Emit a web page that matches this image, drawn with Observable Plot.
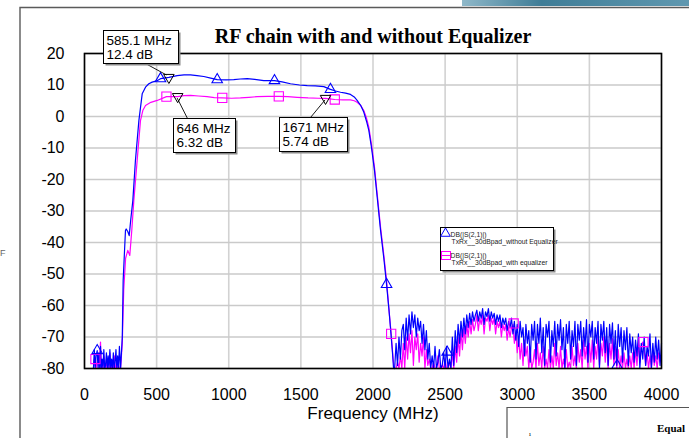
<!DOCTYPE html>
<html><head><meta charset="utf-8">
<script src="https://cdn.jsdelivr.net/npm/d3@7"></script>
<script src="https://cdn.jsdelivr.net/npm/@observablehq/plot@0.6"></script>
<style>
html,body{margin:0;padding:0;background:#fff;}
#chart{position:relative;width:689px;height:438px;overflow:hidden;}
svg{display:block;}
</style></head><body><div id="chart"></div>
<script>
// ---------- DATA ----------
const titleText = "RF chain with and without Equalizer";
const xLabelText = "Frequency (MHz)";
const xTicks = [0, 500, 1000, 1500, 2000, 2500, 3000, 3500, 4000];
const yTicks = [20, 10, 0, -10, -20, -30, -40, -50, -60, -70, -80];

// low-frequency noise floor (MHz)
const lowFreq = [62,68,74,80,88,94,100,106,111,116,122,128,134,140,146,152,158,164,170,176,182,188,194,200,206,212,218,224,230,236,242,250];
const lowBlue = [-80,-74,-80,-76,-74.3,-80,-75,-80,-73,-80,-77,-80,-74,-80,-79,-75,-80,-76,-80,-74,-80,-77,-80,-75,-80,-78,-74,-80,-76,-80,-73,-80];
const lowMag  = [-80,-77,-77,-80,-78,-75,-80,-76,-71.6,-80,-78,-80,-76,-80,-80,-77,-80,-79,-80,-75,-80,-80,-78,-80,-76,-80,-80,-77,-80,-79,-80,-80];

// pass band, without equalizer (blue)
const bandFreqBlue = [262,268,284,289,300,310,320,335,353,377,400,423,446,469,500,527,585.1,642,690,735,780,827,875,920,980,1035,1080,1128,1180,1243,1317,1370,1428,1490,1544,1600,1659,1705,1740,1775,1810,1844,1870,1890,1915,1936,1955,1971,1990,2010,2030,2052,2075,2094,2110,2121,2135,2142];
const bandBlue = [-70,-52,-36.2,-35.7,-36.5,-37.8,-33,-26.7,-14,-1.3,7.2,9.3,10.4,10.9,11.3,12.0,12.4,13.0,13.2,13.2,13.0,12.7,12.2,11.7,11.6,11.7,11.9,12.0,11.8,11.4,11.4,11.0,10.4,10.0,9.8,9.7,9.5,8.6,8.1,7.7,7.4,7.0,6.2,5.1,3.5,1.4,-1.5,-4.4,-10,-17,-26,-36,-45,-53.3,-61,-67,-75,-79.7];

// pass band, with equalizer (magenta)
const bandFreqMag = [262,272,285,300,314,328,342,365,388,405,423,460,504,568,646,690,735,790,850,900,955,1020,1081,1140,1197,1270,1347,1410,1474,1550,1620,1671,1735,1790,1844,1870,1890,1915,1936,1955,1971,1990,2010,2030,2052,2075,2094,2110,2126,2138,2146];
const bandMag = [-72,-55,-45,-42.5,-44.1,-36,-26.7,-14,-1.3,2.0,3.5,4.5,5.1,6.3,6.32,6.6,6.7,6.5,6.3,6.0,5.9,5.8,5.9,6.1,6.3,6.4,6.4,6.3,6.1,5.9,5.8,5.74,5.4,5.3,5.3,5.0,4.5,3.5,1.9,-0.5,-3.4,-9,-16,-25,-35,-44,-52,-61,-69,-76,-80];

// out-of-band noise, 2150..4000 MHz every 10 MHz
const noiseBlue = [
-80,-72,-79,-70,-77,-68,
-66,-74,-64,-71,-63,-69,-62,-67,-63,-70,-64,-68,-65,-72,-66,-74,-68,-77,-72,-80,
-76,-80,-73,-80,-78,-74,-80,-79,-75,-80,-73,-80,-77,-80,
-70,-79,-68,-75,-66,-72,-65,-70,-64,-69,-63,-67,-62.5,-66,-62,-65,
-63,-61.5,-65,-62,-64,-61,-66,-62,-63.5,-61,-65,-62,-64,-62.5,-66,-63,-65,-63,-67,-64,-66,-64,-68,-65,-67,
-64,-69,-65,-71,-66,-73,-65,-70,-67,-76,-66,-72,-68,-78,-66,
-71,-65,-77,-66,-72,-64,-75,-67,-79,-66,
-70,-65,-78,-68,-73,-65,-76,-66,-71,-64.5,
-74,-67,-80,-66,-72,-65,-77,-68,-73,-65,
-79,-66,-71,-65,-76,-67,-73,-64.5,-78,-66,
-70,-65,-77,-67,-72,-65,-80,-66,-71,-65,
-75,-67,-79,-66,-72,-65.5,-77,-68,-79,-66,
-73,-67,-78,-68,-74,-67,-79,-69,-75,-70,
-78,-71,-76,-69,-80,-72,-77,-70,-79,-73,
-76,-69,-80,-72,-78,-70,-77,-71,-79,-72];
const noiseMag = [
-80,-80,-78,-80,-76,-80,
-72,-80,-70,-77,-69,-75,-68,-79,-70,-74,-69,-78,-72,-76,-70,-80,-74,-79,-77,-80,
-80,-78,-80,-80,-76,-80,-80,-79,-80,-77,-80,-80,-78,-80,
-75,-80,-73,-78,-70,-76,-68,-74,-67,-72,-66,-70,-65,-69,-64.5,-68,
-66,-63,-68,-64,-66,-63,-69,-64,-65,-63,-68,-64,-66,-64,-69,-65,-67,-65,-70,-66,-68,-66,-71,-67,-70,
-67,-66,-72,-68,-75,-70,-77,-72,-79,-71,-76,-73,-80,-74,-80,
-78,-74,-80,-72,-79,-75,-80,-73,-80,-77,
-80,-74,-80,-76,-80,-72,-79,-75,-80,-73,
-80,-77,-80,-74,-80,-78,-80,-73,-79,-76,
-80,-72,-78,-74,-80,-71,-77,-73,-80,-72,
-78,-71,-80,-73,-77,-70,-79,-72,-76,-70,
-78,-71,-80,-72,-77,-70.5,-79,-73,-80,-74,
-80,-76,-80,-75,-80,-77,-80,-76,-80,-75,
-80,-74,-79,-72,-78,-73,-71.6,-74,-79,-75,
-80,-76,-80,-74,-79,-76,-80,-75,-78,-77];
const noiseFreq = d3.range(2150, 4001, 10);

// series markers
const blueMarkFreq = [88, 527, 920, 1317, 1705, 2094, 2514, 3692];
const blueMarkDb   = [-74.3, 12.0, 11.7, 11.4, 8.6, -53.3, -74.8, -79];
const magMarkFreq  = [76, 568, 955, 1347, 1735, 2126, 2975, 3875];
const magMarkDb    = [-77, 6.3, 5.9, 6.4, 5.4, -69, -65.7, -71.6];

// readout markers
const annFreq = [585.1, 646, 1671];
const annDb   = [12.4, 6.32, 5.74];
const annText = [["585.1 MHz", "12.4 dB"], ["646 MHz", "6.32 dB"], ["1671 MHz", "5.74 dB"]];

const legendLines = [["DB(|S(2,1)|)", "TxRx__30dBpad_without Equalizer"], ["DB(|S(2,1)|)", "TxRx__30dBpad_with equalizer"]];

// ---------- BUILD ----------
const zip = (fs, ds) => fs.map((f, i) => ({f, db: ds[i]}));
const blueData = [...zip(lowFreq, lowBlue), ...zip(bandFreqBlue, bandBlue), ...zip(noiseFreq, noiseBlue)];
const magData  = [...zip(lowFreq, lowMag), ...zip(bandFreqMag, bandMag), ...zip(noiseFreq, noiseMag)];
const blueMarks = zip(blueMarkFreq, blueMarkDb);
const magMarks = zip(magMarkFreq, magMarkDb);
const annMarks = zip(annFreq, annDb);

const invTriangle = {
  draw(ctx, size) {
    const s = Math.sqrt(size / 0.433);
    const h = s * Math.sqrt(3) / 2;
    ctx.moveTo(-s / 2, -h / 3);
    ctx.lineTo(s / 2, -h / 3);
    ctx.lineTo(0, 2 * h / 3);
    ctx.closePath();
  }
};

const BLUE = "#0000ff", MAG = "#ff00ff";
const sans = "'Liberation Sans', Arial, sans-serif";

const plot = Plot.plot({
  width: 689, height: 438,
  marginLeft: 84, marginRight: 28, marginTop: 53, marginBottom: 70,
  style: {fontFamily: sans, fontSize: "16px", background: "white", color: "black", overflow: "visible"},
  x: {domain: [0, 4000]},
  y: {domain: [-80, 20]},
  marks: [
    Plot.gridX(xTicks, {stroke: "#d2d2d2", strokeOpacity: 1, strokeWidth: 1.6}),
    Plot.gridY(yTicks, {stroke: "#cacaca", strokeOpacity: 1, strokeWidth: 1.6}),
    Plot.line(magData, {x: "f", y: "db", stroke: MAG, strokeWidth: 1.2}),
    Plot.line(blueData, {x: "f", y: "db", stroke: BLUE, strokeWidth: 1.2}),
    Plot.dot(magMarks, {x: "f", y: "db", symbol: "square", r: 5.2, stroke: MAG, fill: "none", strokeWidth: 1.1}),
    Plot.dot(blueMarks, {x: "f", y: "db", symbol: "triangle", r: 3.9, stroke: BLUE, fill: "none", strokeWidth: 1.1}),
    Plot.dot(annMarks, {x: "f", y: "db", symbol: invTriangle, r: 3.9, stroke: "black", fill: "none", strokeWidth: 1}),
    Plot.frame({stroke: "black", strokeWidth: 1.6}),
    Plot.axisX(xTicks, {tickSize: 0, tickPadding: 20, label: null, fontSize: 16, tickFormat: d => String(d)}),
    Plot.axisY(yTicks, {tickSize: 0, tickPadding: 20, label: null, fontSize: 16, tickFormat: d => String(d)}),
    Plot.text([titleText], {frameAnchor: "top", lineAnchor: "middle", dy: -17, fontFamily: "'Liberation Serif', 'Times New Roman', serif", fontWeight: "bold", fontSize: 20}),
    Plot.text([xLabelText], {frameAnchor: "bottom", lineAnchor: "middle", dy: 45, fontSize: 17})
  ]
});
document.getElementById("chart").appendChild(plot);

// ---------- DECORATIONS & ANNOTATIONS ----------
const svg = d3.select(plot);
const sx = plot.scale("x"), sy = plot.scale("y");

const defs = svg.append("defs");
const grad = defs.append("linearGradient").attr("id", "bar").attr("x1", 0).attr("x2", 1);
grad.append("stop").attr("offset", "0%").attr("stop-color", "#8fb8c9");
grad.append("stop").attr("offset", "35%").attr("stop-color", "#3f7d97");
grad.append("stop").attr("offset", "100%").attr("stop-color", "#5f98b0");
const deco = svg.insert("g", ":first-child").attr("text-anchor", "start");
deco.append("rect").attr("x", 462).attr("y", 0).attr("width", 227).attr("height", 6).attr("fill", "url(#bar)");
deco.append("path").attr("d", "M20,438V7.5H689").attr("fill", "none").attr("stroke", "#5a5a5a").attr("stroke-width", 1.4);
deco.append("path").attr("d", "M507,438V407.5H689").attr("fill", "none").attr("stroke", "#555").attr("stroke-width", 1.2);
deco.append("text").attr("x", 657).attr("y", 432).text("Equal")
  .attr("font-family", "'Liberation Serif', serif").attr("font-weight", "bold").attr("font-size", 11);
deco.append("text").attr("x", 529).attr("y", 436).text("ı")
  .attr("font-family", "'Liberation Serif', serif").attr("font-size", 7);
deco.append("text").attr("x", 0).attr("y", 256).text("F")
  .attr("font-family", sans).attr("font-size", 9).attr("fill", "#666");

// readout boxes
const boxGeom = [
  {dx: -65, dy: -47, w: 75, h: 33, lx: 42, ly: 33},
  {dx: -4, dy: 22, w: 62, h: 34, lx: 14, ly: 0},
  {dx: -46, dy: 19, w: 68, h: 34, lx: 31, ly: 0}
];
const ann = svg.append("g").attr("text-anchor", "start");
annMarks.forEach((d, i) => {
  const mx = sx.apply(d.f), my = sy.apply(d.db);
  const g = boxGeom[i];
  const bx = Math.round(mx + g.dx) + 0.5, by = Math.round(my + g.dy) + 0.5;
  const ex = mx + (g.ly === 0 ? 0 : -2), ey = my + (g.ly === 0 ? 2 : -2);
  ann.append("line").attr("x1", bx + g.lx).attr("y1", by + g.ly).attr("x2", ex).attr("y2", ey)
    .attr("stroke", "black").attr("stroke-width", 0.9);
  ann.append("rect").attr("x", bx + 2).attr("y", by + 2).attr("width", g.w).attr("height", g.h).attr("fill", "#8a8a8a");
  ann.append("rect").attr("x", bx).attr("y", by).attr("width", g.w).attr("height", g.h)
    .attr("fill", "white").attr("stroke", "black").attr("stroke-width", 1);
  annText[i].forEach((t, k) => {
    ann.append("text").attr("x", bx + 3).attr("y", by + 14 + k * 14).text(t)
      .attr("font-family", sans).attr("font-size", 13.5).attr("fill", "black");
  });
});

// legend
const lg = svg.append("g").attr("text-anchor", "start").attr("font-family", sans).attr("font-size", 6.8).attr("fill", "#222");
lg.append("rect").attr("x", 442.5).attr("y", 229.5).attr("width", 113).attr("height", 43).attr("fill", "#8a8a8a");
lg.append("rect").attr("x", 440.5).attr("y", 227.5).attr("width", 113).attr("height", 43).attr("fill", "white").attr("stroke", "black");
lg.append("path").attr("d", d3.symbol(d3.symbolTriangle, 40)()).attr("transform", "translate(445.5,233.5)")
  .attr("fill", "none").attr("stroke", BLUE).attr("stroke-width", 1);
lg.append("rect").attr("x", 441.5).attr("y", 251.5).attr("width", 9).attr("height", 8).attr("fill", "none").attr("stroke", MAG).attr("stroke-width", 1);
lg.append("line").attr("x1", 441).attr("x2", 451).attr("y1", 255.5).attr("y2", 255.5).attr("stroke", MAG);
legendLines.forEach((lines, i) => {
  lg.append("text").attr("x", 450.5).attr("y", 237 + i * 21).text(lines[0]);
  lg.append("text").attr("x", 451.5).attr("y", 244 + i * 21).text(lines[1]);
});
</script></body></html>
